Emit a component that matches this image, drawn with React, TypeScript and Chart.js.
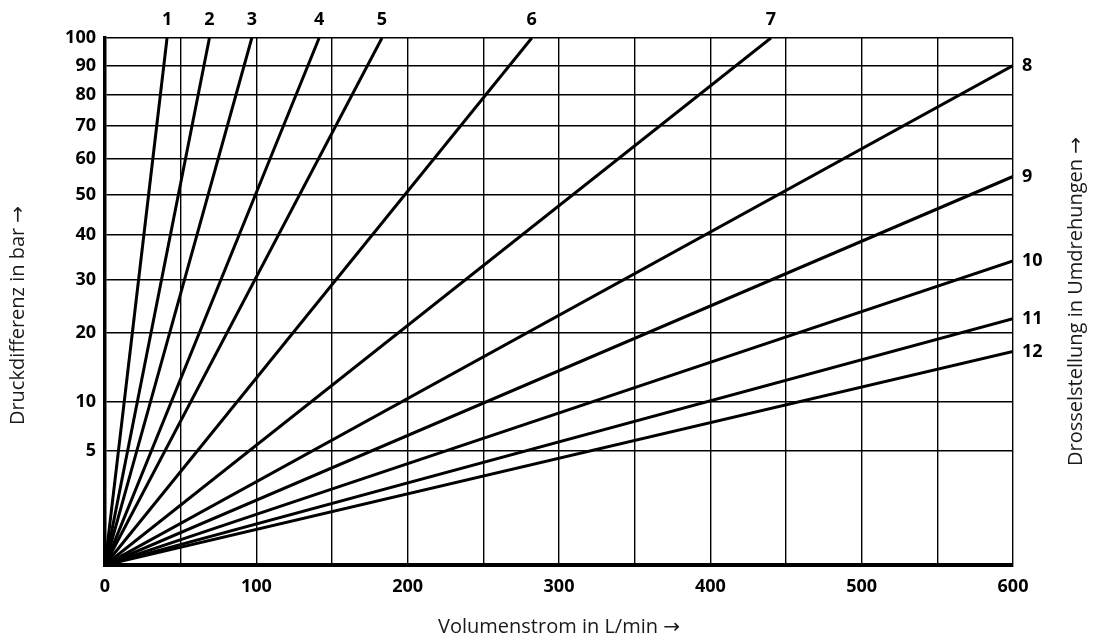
import React, { useEffect, useRef } from 'react';
import { Chart, registerables, LinearScale } from 'chart.js';

Chart.register(...registerables);

// ---- data ----
const lineLabels = ['1', '2', '3', '4', '5', '6', '7', '8', '9', '10', '11', '12'];
// end point of each throttle line (start is the origin)
const endFlow = [41, 69, 97, 141.5, 183, 282, 440, 600, 600, 600, 600, 600];
const endPressure = [100, 100, 100, 100, 100, 100, 100, 90, 55, 34, 22.5, 17];
const yTickValues = [5, 10, 20, 30, 40, 50, 60, 70, 80, 90, 100];
const xLabelValues = [0, 100, 200, 300, 400, 500, 600];
const xTitle = 'Volumenstrom in L/min \u2192';
const yTitle = 'Druckdifferenz in bar \u2192';
const rightTitle = 'Drosselstellung in Umdrehungen \u2192';

const SCALE_POWER = 0.51;

class SqrtScale extends LinearScale {
  static id = 'sqrtPressure';
  static defaults = {};
  getPixelForValue(value: any) {
    if (value === null || value === undefined || isNaN(value)) return NaN;
    const range = this.max - this.min;
    const r = range === 0 ? 0 : (value - this.min) / range;
    const d = Math.sign(r) * Math.pow(Math.abs(r), SCALE_POWER);
    return this.getPixelForDecimal(d);
  }
  getValueForPixel(pixel: number) {
    const d = this.getDecimalForPixel(pixel);
    return this.min + Math.sign(d) * Math.pow(Math.abs(d), 1 / SCALE_POWER) * (this.max - this.min);
  }
}
Chart.register(SqrtScale);

const TICK_FONT = { family: '"Open Sans", "Noto Sans", sans-serif', size: 18, weight: 'bold' as const };
const TITLE_FONT = '20px "Open Sans", "Noto Sans", "DejaVu Sans", sans-serif';

const labelPlugin = {
  id: 'lineLabels',
  afterDatasetsDraw(chart: any) {
    const { ctx, chartArea } = chart;
    const yMax = chart.scales.y.max;
    ctx.save();
    ctx.fillStyle = '#000';
    ctx.font = 'bold 18px "Open Sans", "Noto Sans", sans-serif';
    chart.data.datasets.forEach((ds: any, i: number) => {
      const meta = chart.getDatasetMeta(i);
      const pt = meta.data[meta.data.length - 1];
      if (!pt) return;
      if (endPressure[i] >= yMax) {
        ctx.textAlign = 'center';
        ctx.textBaseline = 'middle';
        ctx.fillText(lineLabels[i], pt.x, chartArea.top - 18);
      } else {
        ctx.textAlign = 'left';
        ctx.textBaseline = 'middle';
        ctx.fillText(lineLabels[i], chartArea.right + 9, pt.y);
      }
    });
    ctx.restore();
  },
};

const titlePlugin = {
  id: 'axisTitles',
  afterDraw(chart: any) {
    const { ctx, chartArea } = chart;
    const cy = (chartArea.top + chartArea.bottom) / 2;
    ctx.save();
    ctx.fillStyle = '#1a1a1a';
    ctx.font = TITLE_FONT;
    ctx.textAlign = 'center';
    ctx.textBaseline = 'middle';
    ctx.fillText(xTitle, (chartArea.left + chartArea.right) / 2, chartArea.bottom + 62);
    ctx.save();
    ctx.translate(18, cy + 14);
    ctx.rotate(-Math.PI / 2);
    ctx.fillText(yTitle, 0, 0);
    ctx.restore();
    ctx.save();
    ctx.translate(chartArea.right + 63, cy);
    ctx.rotate(-Math.PI / 2);
    ctx.fillText(rightTitle, 0, 0);
    ctx.restore();
    ctx.restore();
  },
};

export default function App() {
  const canvasRef = useRef<HTMLCanvasElement | null>(null);

  useEffect(() => {
    if (!canvasRef.current) return;
    const datasets = lineLabels.map((lab, i) => ({
      label: lab,
      data: [
        { x: 0, y: 0 },
        { x: endFlow[i], y: endPressure[i] },
      ],
      borderColor: '#000',
      borderWidth: 3,
      pointRadius: 0,
      tension: 0,
      fill: false,
    }));
    const chart = new Chart(canvasRef.current, {
      type: 'line',
      data: { datasets },
      options: {
        animation: false,
        responsive: true,
        maintainAspectRatio: false,
        layout: { padding: { top: 38, right: 82, left: 0, bottom: 0 } },
        plugins: { legend: { display: false }, tooltip: { enabled: false } },
        scales: {
          x: {
            type: 'linear',
            min: 0,
            max: 600,
            afterFit: (s: any) => {
              s.height = 79;
            },
            grid: { color: '#000', lineWidth: 1.4, drawTicks: false },
            border: { color: '#000', width: 4 },
            ticks: {
              stepSize: 50,
              autoSkip: false,
              maxRotation: 0,
              padding: 11,
              color: '#000',
              font: TICK_FONT,
              callback: (v: any) => (xLabelValues.includes(Number(v)) ? String(v) : ''),
            },
          },
          y: {
            type: 'sqrtPressure' as any,
            min: 0,
            max: 100,
            afterFit: (s: any) => {
              s.width = 105;
            },
            afterBuildTicks: (s: any) => {
              s.ticks = yTickValues.map((v) => ({ value: v }));
            },
            grid: { color: '#000', lineWidth: 1.4, drawTicks: false },
            border: { color: '#000', width: 3.5 },
            ticks: {
              padding: 9,
              color: '#000',
              font: TICK_FONT,
              autoSkip: false,
              callback: (v: any) => String(v),
            },
          },
        },
      },
      plugins: [labelPlugin, titlePlugin],
    } as any);
    return () => chart.destroy();
  }, []);

  return (
    <div style={{ position: 'absolute', left: 0, top: 0, width: 1095, height: 644, background: '#fff' }}>
      <canvas ref={canvasRef} />
    </div>
  );
}
